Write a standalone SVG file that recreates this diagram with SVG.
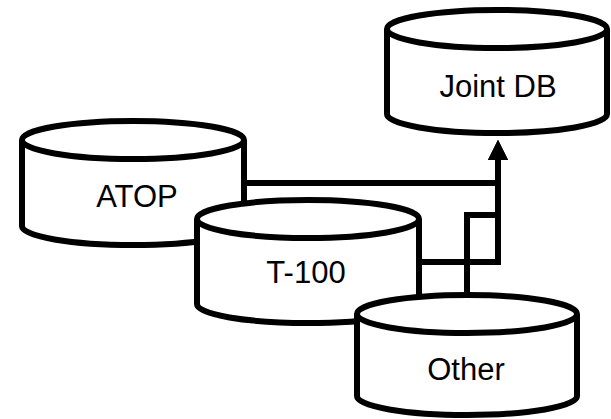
<svg xmlns="http://www.w3.org/2000/svg" width="611" height="419" viewBox="0 0 611 419">
  <defs>
    <style>
      .edge { fill: none; stroke: #000; stroke-width: 6; stroke-linejoin: miter; stroke-linecap: butt; }
      .body { fill: #fff; stroke: #000; stroke-width: 6; stroke-linejoin: round; }
      .rim { fill: none; stroke: #000; stroke-width: 6; }
      .label { font-family: "Liberation Sans", Arial, sans-serif; font-size: 31px; fill: #000; text-anchor: middle; }
    </style>
    <marker id="arrow" markerUnits="userSpaceOnUse" viewBox="0 0 20 20" markerWidth="20" markerHeight="20" refX="5" refY="10" orient="auto">
      <path d="M0,0 L20,10 L0,20 Z" fill="#000"/>
    </marker>
  </defs>

  <rect width="611" height="419" fill="#fff"/>

  <!-- connectors into the joint database -->
  <g id="connectors">
    <path class="edge" d="M244,183 H498 V155" marker-end="url(#arrow)"/>
    <path class="edge" d="M419,262 H498 V155" marker-end="url(#arrow)"/>
    <path class="edge" d="M467,295 V215 H498 V155" marker-end="url(#arrow)"/>
  </g>

  <!-- Joint DB -->
  <g id="joint-db">
    <path class="body" d="M387,29 A110,19 0 0 1 607,29 V114 A110,19 0 0 1 387,114 Z"/>
    <path class="rim" d="M387,29 A110,19 0 0 0 607,29"/>
    <text class="label" x="498" y="97">Joint DB</text>
  </g>

  <!-- ATOP -->
  <g id="atop">
    <path class="body" d="M22,140 A111,19 0 0 1 244,140 V226 A111,19 0 0 1 22,226 Z"/>
    <path class="rim" d="M22,140 A111,19 0 0 0 244,140"/>
    <text class="label" x="137" y="207">ATOP</text>
  </g>

  <!-- T-100 -->
  <g id="t100">
    <path class="body" d="M197,219 A111,19 0 0 1 419,219 V304 A111,19 0 0 1 197,304 Z"/>
    <path class="rim" d="M197,219 A111,19 0 0 0 419,219"/>
    <text class="label" x="306" y="283">T-100</text>
  </g>

  <!-- Other -->
  <g id="other">
    <path class="body" d="M357,314 A110,19 0 0 1 577,314 V396 A110,19 0 0 1 357,396 Z"/>
    <path class="rim" d="M357,314 A110,19 0 0 0 577,314"/>
    <text class="label" x="466" y="380">Other</text>
  </g>
</svg>
